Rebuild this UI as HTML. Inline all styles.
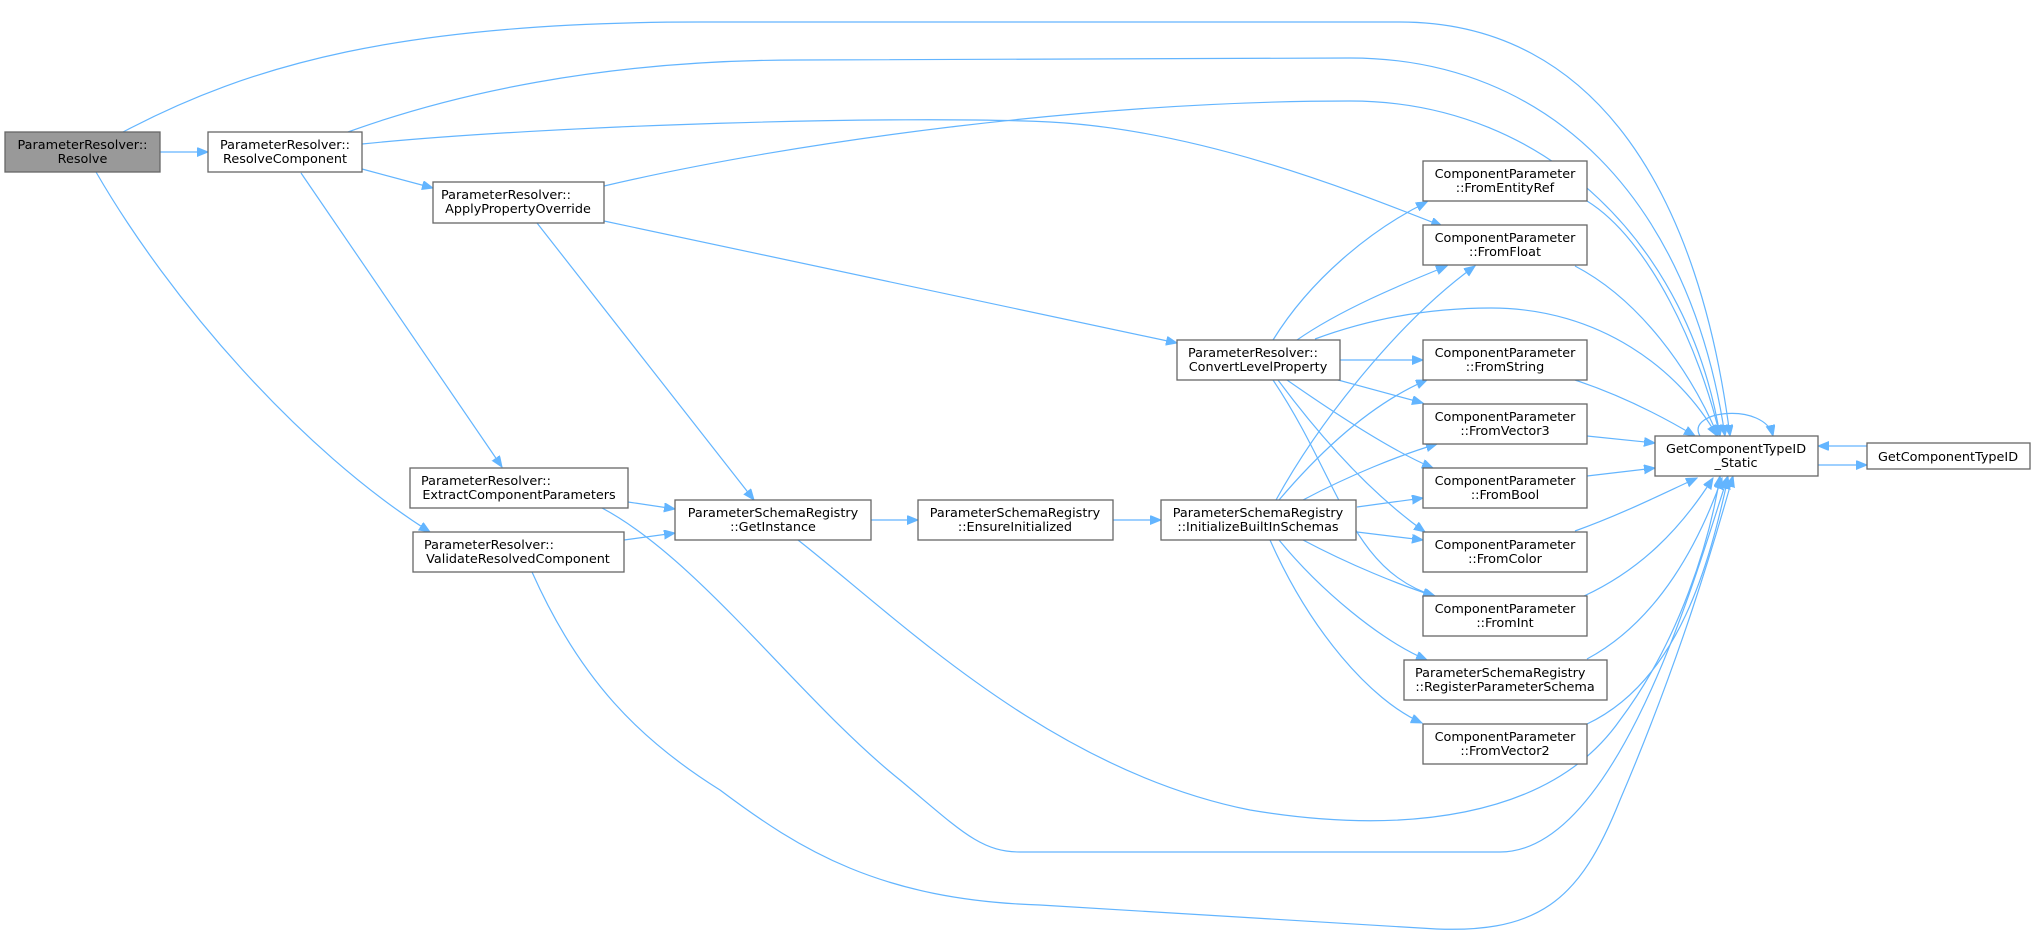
<!DOCTYPE html>
<html><head><meta charset="utf-8"><style>
html,body{margin:0;padding:0;background:#fff;}
svg{display:block;}
text{font-family:"DejaVu Sans","Liberation Sans",sans-serif;font-size:12.8px;fill:#000;text-anchor:middle;}
.n{fill:#fff;stroke:#666;stroke-width:1.3;}
.e{fill:none;stroke:#63b5ff;stroke-width:1.2;marker-end:url(#a);}
</style></head><body>
<svg width="2036" height="937" viewBox="0 0 2036 937" xmlns="http://www.w3.org/2000/svg">
<defs><marker id="a" markerUnits="userSpaceOnUse" markerWidth="12" markerHeight="10" refX="11" refY="4.5" orient="auto"><path d="M0,0 L11,4.5 L0,9 z" fill="#63b5ff" stroke="#63b5ff" stroke-width="1"/></marker></defs>

<!-- edges -->
<path class="e" d="M123,132 C250,65 400,22 700,22 L1400,22 C1600,22 1700,200 1730,436"/>
<path class="e" d="M160,152 L208,152"/>
<path class="e" d="M96,172 C170,300 300,450 430,532"/>
<path class="e" d="M348,132 C450,95 600,60 800,60 L1350,58 C1550,58 1690,200 1725,436"/>
<path class="e" d="M362,144 C550,125 900,115 1050,122 C1200,130 1350,190 1442,226"/>
<path class="e" d="M362,169 L433,188"/>
<path class="e" d="M301,173 L502,467"/>
<path class="e" d="M604,186 C800,140 1100,101 1350,101 C1550,101 1690,250 1720,436"/>
<path class="e" d="M604,221 L1177,343"/>
<path class="e" d="M537,223 L754,500"/>
<path class="e" d="M628,502 L675,509"/>
<path class="e" d="M602,508 C700,560 800,700 900,780 C960,830 980,852 1020,852 L1500,852 C1620,852 1700,560 1728,476"/>
<path class="e" d="M624,540 L675,533"/>
<path class="e" d="M532,572 C580,680 640,740 720,790 C800,850 880,900 1040,905 L1420,928 C1540,937 1580,900 1620,800 C1680,660 1715,540 1733,476"/>
<path class="e" d="M871,520 L918,520"/>
<path class="e" d="M798,540 C900,620 1050,770 1250,810 C1400,835 1550,820 1620,720 C1680,640 1710,540 1720,476"/>
<path class="e" d="M1113,520 L1161,520"/>
<!-- Convert edges -->
<path class="e" d="M1273,340 C1310,280 1370,230 1427,202"/>
<path class="e" d="M1297,340 C1340,310 1400,285 1447,266"/>
<path class="e" d="M1315,339 C1380,315 1440,308 1491,308 C1600,308 1680,370 1717,436"/>
<path class="e" d="M1340,360 L1423,360"/>
<path class="e" d="M1338,380 L1423,403"/>
<path class="e" d="M1287,380 C1330,410 1390,450 1433,468"/>
<path class="e" d="M1278,380 C1330,450 1380,500 1425,532"/>
<path class="e" d="M1273,380 C1340,480 1350,570 1435,596"/>
<!-- Initialize edges -->
<path class="e" d="M1276,500 C1320,420 1400,320 1475,266"/>
<path class="e" d="M1279,500 C1330,440 1380,400 1427,380"/>
<path class="e" d="M1303,500 C1350,475 1400,455 1437,444"/>
<path class="e" d="M1357,507 L1423,498"/>
<path class="e" d="M1357,532 L1423,540"/>
<path class="e" d="M1303,540 C1350,565 1400,585 1434,596"/>
<path class="e" d="M1279,540 C1320,590 1380,640 1427,660"/>
<path class="e" d="M1270,540 C1310,630 1370,700 1422,723"/>
<!-- From -> Static -->
<path class="e" d="M1587,201 C1650,240 1700,350 1720,436"/>
<path class="e" d="M1575,266 C1640,300 1690,370 1718,436"/>
<path class="e" d="M1575,380 C1620,395 1660,415 1695,436"/>
<path class="e" d="M1587,436 L1655,443"/>
<path class="e" d="M1587,476 L1655,468"/>
<path class="e" d="M1575,531 C1620,515 1660,495 1697,478"/>
<path class="e" d="M1584,596 C1640,570 1680,530 1713,478"/>
<path class="e" d="M1587,659 C1660,620 1700,540 1722,478"/>
<path class="e" d="M1587,724 C1680,680 1710,560 1728,478"/>
<path class="e" d="M1700,436 C1685,410 1765,402 1773,436"/>
<path class="e" d="M1867,446 L1818,446"/>
<path class="e" d="M1818,465 L1867,465"/>

<!-- nodes -->
<rect x="5" y="132" width="155" height="40" fill="#999" stroke="#666" stroke-width="1.3"/>
<text x="82.5" y="149">ParameterResolver::</text><text x="82.5" y="163">Resolve</text>
<rect class="n" x="208" y="132" width="154" height="40"/>
<text x="285" y="149">ParameterResolver::</text><text x="285" y="163">ResolveComponent</text>
<rect class="n" x="433" y="182" width="171" height="41"/>
<text x="518" y="199" style="text-anchor:start" dx="-77">ParameterResolver::</text><text x="518" y="213">ApplyPropertyOverride</text>
<rect class="n" x="410" y="468" width="218" height="40"/>
<text x="421" y="485" style="text-anchor:start">ParameterResolver::</text><text x="519" y="499">ExtractComponentParameters</text>
<rect class="n" x="413" y="532" width="211" height="40"/>
<text x="424" y="549" style="text-anchor:start">ParameterResolver::</text><text x="518" y="563">ValidateResolvedComponent</text>
<rect class="n" x="675" y="500" width="196" height="40"/>
<text x="773" y="517">ParameterSchemaRegistry</text><text x="773" y="531">::GetInstance</text>
<rect class="n" x="918" y="500" width="195" height="40"/>
<text x="1015" y="517">ParameterSchemaRegistry</text><text x="1015" y="531">::EnsureInitialized</text>
<rect class="n" x="1161" y="500" width="195" height="40"/>
<text x="1258" y="517">ParameterSchemaRegistry</text><text x="1258" y="531">::InitializeBuiltInSchemas</text>
<rect class="n" x="1177" y="340" width="163" height="40"/>
<text x="1188" y="357" style="text-anchor:start">ParameterResolver::</text><text x="1258" y="371">ConvertLevelProperty</text>

<rect class="n" x="1423" y="161" width="164" height="40"/>
<text x="1505" y="178">ComponentParameter</text><text x="1505" y="192">::FromEntityRef</text>
<rect class="n" x="1423" y="225" width="164" height="40"/>
<text x="1505" y="242">ComponentParameter</text><text x="1505" y="256">::FromFloat</text>
<rect class="n" x="1423" y="340" width="164" height="40"/>
<text x="1505" y="357">ComponentParameter</text><text x="1505" y="371">::FromString</text>
<rect class="n" x="1423" y="404" width="164" height="40"/>
<text x="1505" y="421">ComponentParameter</text><text x="1505" y="435">::FromVector3</text>
<rect class="n" x="1423" y="468" width="164" height="40"/>
<text x="1505" y="485">ComponentParameter</text><text x="1505" y="499">::FromBool</text>
<rect class="n" x="1423" y="532" width="164" height="40"/>
<text x="1505" y="549">ComponentParameter</text><text x="1505" y="563">::FromColor</text>
<rect class="n" x="1423" y="596" width="164" height="40"/>
<text x="1505" y="613">ComponentParameter</text><text x="1505" y="627">::FromInt</text>
<rect class="n" x="1404" y="660" width="203" height="40"/>
<text x="1415" y="677" style="text-anchor:start">ParameterSchemaRegistry</text><text x="1505" y="691">::RegisterParameterSchema</text>
<rect class="n" x="1423" y="724" width="164" height="40"/>
<text x="1505" y="741">ComponentParameter</text><text x="1505" y="755">::FromVector2</text>

<rect class="n" x="1655" y="436" width="163" height="40"/>
<text x="1736" y="453">GetComponentTypeID</text><text x="1736" y="467">_Static</text>
<rect class="n" x="1867" y="443" width="163" height="26"/>
<text x="1948" y="461">GetComponentTypeID</text>
</svg>
</body></html>
